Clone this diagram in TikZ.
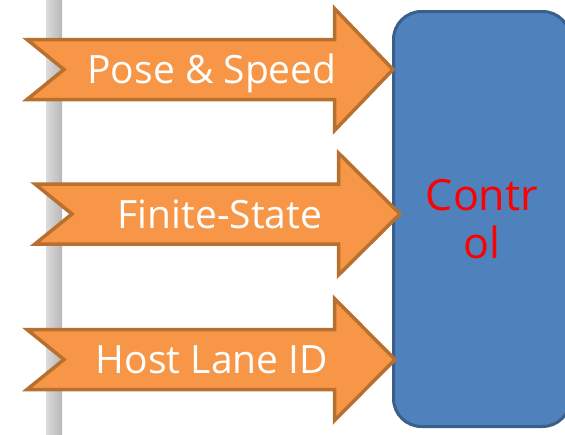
\documentclass[tikz,border=0pt]{standalone}
\usepackage{fontspec}
\setmainfont{Open Sans}
\definecolor{arrowfill}{HTML}{F79646}
\definecolor{arrowline}{HTML}{B7702F}
\definecolor{ctrlfill}{HTML}{4F81BD}
\definecolor{ctrlline}{HTML}{3A5F8B}

\begin{document}
\begin{tikzpicture}[x=1pt,y=-1pt,
    flow/.style={draw=arrowline, fill=arrowfill, line width=3.5pt, line join=miter},
    flowtext/.style={text=white, font=\fontsize{39}{44}\selectfont, inner sep=0pt},
    ctrl/.style={draw=ctrlline, fill=ctrlfill, line width=3pt, rounded corners=28pt,
                 minimum width=177pt, minimum height=415pt, align=center,
                 text=red, font=\fontsize{43}{48}\selectfont}]
  \clip (0,0) rectangle (565,434);
  % side bar
  \shade[left color=black!14, right color=black!28] (46,0) rectangle (62,434);
  % control block
  \node[ctrl] (control) at (482,219) {Contr\\ol};
  % input arrows
  \foreach \nm/\yc/\xb/\xh/\xt/\txt in {pose/69.5/27/334.5/393/Pose \& Speed,
                                       state/214/35/338.5/400/Finite-State,
                                       lane/359.5/27/334.5/395/Host Lane ID} {
    \draw[flow] (\xb,\yc-30) -- (\xh,\yc-30) -- (\xh,\yc-61) -- (\xt,\yc)
      -- (\xh,\yc+61) -- (\xh,\yc+30) -- (\xb,\yc+30) -- (\xb+37,\yc) -- cycle;
    \node[flowtext, anchor=base] (\nm) at (\xb+185,\yc+14) {\txt};
  }
\end{tikzpicture}
\end{document}
